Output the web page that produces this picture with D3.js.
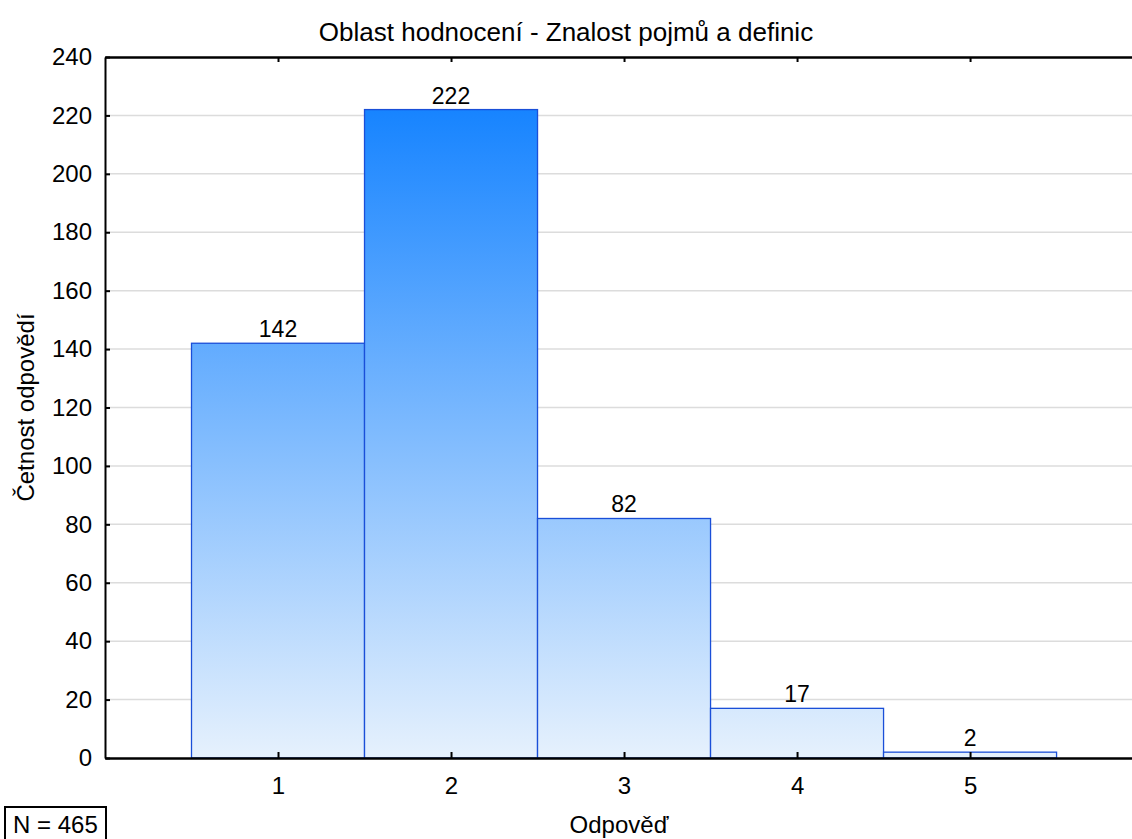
<!DOCTYPE html>
<html>
<head>
<meta charset="utf-8">
<script src="https://cdn.jsdelivr.net/npm/d3@7"></script>
<style>
  html, body { margin: 0; padding: 0; background: #fff; }
  svg { display: block; font-family: "Liberation Sans", Arial, sans-serif; }
</style>
</head>
<body>
<svg id="chart" width="1132" height="839"></svg>
<script>
// Response categories and their counts
const categories = [1, 2, 3, 4, 5];
const counts = [142, 222, 82, 17, 2];
const yTicks = [0, 20, 40, 60, 80, 100, 120, 140, 160, 180, 200, 220, 240];
const title = "Oblast hodnocení - Znalost pojmů a definic";
const xTitle = "Odpověď";
const yTitle = "Četnost odpovědí";
const nLabel = "N = 465";

const FONT = "Liberation Sans, Arial, sans-serif";
const svg = d3.select("#chart");
const plotLeft = 105, plotTop = 57, plotBottom = 758, plotRight = 1132;

const x = d3.scaleLinear().domain([0, 5.936]).range([plotLeft, plotRight]);
const y = d3.scaleLinear().domain([0, 240]).range([plotBottom, plotTop]);
const barW = x(1) - x(0);

// Vertical gradient shared by all bars (absolute to the plot height)
const defs = svg.append("defs");
const grad = defs.append("linearGradient")
  .attr("id", "barFill")
  .attr("gradientUnits", "userSpaceOnUse")
  .attr("x1", 0).attr("x2", 0)
  .attr("y1", y(222)).attr("y2", y(0));
grad.append("stop").attr("offset", "0%").attr("stop-color", "#1784ff");
grad.append("stop").attr("offset", "100%").attr("stop-color", "#e6f1fd");

// Horizontal grid lines
svg.append("g")
  .selectAll("line")
  .data(yTicks.filter(d => d > 0 && d < 240))
  .join("line")
  .attr("x1", plotLeft).attr("x2", plotRight)
  .attr("y1", d => y(d)).attr("y2", d => y(d))
  .attr("stroke", "#dcdcdc").attr("stroke-width", 1.5);

// Bars
svg.append("g")
  .selectAll("rect")
  .data(categories)
  .join("rect")
  .attr("x", (d) => x(d - 0.5))
  .attr("y", (d, i) => y(counts[i]))
  .attr("width", barW)
  .attr("height", (d, i) => y(0) - y(counts[i]))
  .attr("fill", "url(#barFill)")
  .attr("stroke", "#1a4fd8")
  .attr("stroke-width", 1.3);

// Value labels above bars
svg.append("g")
  .selectAll("text")
  .data(categories)
  .join("text")
  .attr("x", d => x(d))
  .attr("y", (d, i) => y(counts[i]) - 6)
  .attr("text-anchor", "middle")
  .attr("font-size", 23)
  .attr("fill", "#000")
  .text((d, i) => counts[i]);

// Left axis with inward ticks
const yAxis = d3.axisLeft(y).tickValues(yTicks).tickSizeInner(-5).tickSizeOuter(0).tickPadding(13);
const gy = svg.append("g").attr("transform", `translate(${plotLeft},0)`).call(yAxis);
gy.attr("font-size", 24).attr("font-family", FONT);
gy.select(".domain").attr("stroke", "#000").attr("stroke-width", 2);
gy.selectAll(".tick line").attr("stroke", "#000").attr("stroke-width", 2);
gy.selectAll(".tick text").attr("fill", "#000");

// Bottom axis with inward ticks
const xAxis = d3.axisBottom(x).tickValues(categories).tickFormat(d3.format("d"))
  .tickSizeInner(-6).tickSizeOuter(0).tickPadding(19);
const gx = svg.append("g").attr("transform", `translate(0,${plotBottom})`).call(xAxis);
gx.attr("font-size", 24).attr("font-family", FONT);
gx.select(".domain").attr("stroke", "#000").attr("stroke-width", 2.5);
gx.selectAll(".tick line").attr("stroke", "#000").attr("stroke-width", 2);
gx.selectAll(".tick text").attr("fill", "#000");

// Top axis line with inward ticks, no labels
const xTop = d3.axisTop(x).tickValues(categories).tickSizeInner(-5).tickSizeOuter(0).tickFormat("");
const gt = svg.append("g").attr("transform", `translate(0,${plotTop})`).call(xTop);
gt.select(".domain").attr("stroke", "#000").attr("stroke-width", 2.5);
gt.selectAll(".tick line").attr("stroke", "#000").attr("stroke-width", 2);

// Title
svg.append("text")
  .attr("x", 566).attr("y", 41)
  .attr("text-anchor", "middle")
  .attr("font-size", 26)
  .text(title);

// Axis titles
svg.append("text")
  .attr("x", 619).attr("y", 833)
  .attr("text-anchor", "middle")
  .attr("font-size", 24)
  .text(xTitle);

svg.append("text")
  .attr("transform", `translate(34,${(plotTop + plotBottom) / 2}) rotate(-90)`)
  .attr("text-anchor", "middle")
  .attr("font-size", 24)
  .text(yTitle);

// Sample size box
svg.append("text")
  .attr("x", 13).attr("y", 833)
  .attr("font-size", 24)
  .text(nLabel);
svg.append("rect")
  .attr("x", 5).attr("y", 807)
  .attr("width", 101).attr("height", 40)
  .attr("fill", "none").attr("stroke", "#000").attr("stroke-width", 2);
</script>
</body>
</html>
